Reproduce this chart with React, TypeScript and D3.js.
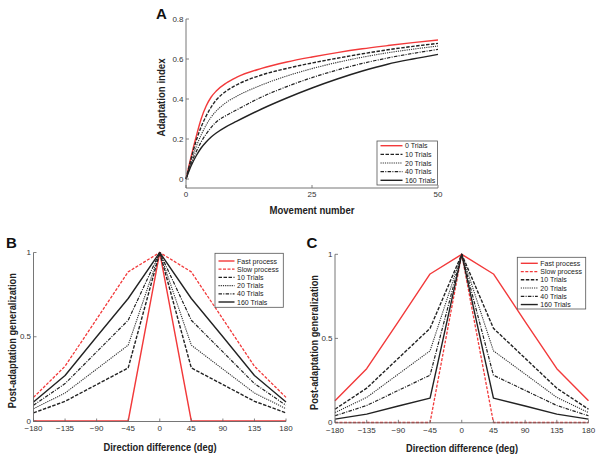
import React from "react";
import * as d3 from "d3";

// ---------- Panel A data ----------
const movement = [0, 1, 2, 3, 4, 5, 6, 8, 10, 15, 20, 25, 30, 35, 40, 45, 50];
const trials0 = [0, 0.11, 0.21, 0.3, 0.365, 0.41, 0.44, 0.48, 0.508, 0.553, 0.585, 0.61, 0.632, 0.651, 0.667, 0.682, 0.695];
const trials10 = [0, 0.1, 0.19, 0.26, 0.315, 0.36, 0.395, 0.44, 0.47, 0.52, 0.553, 0.58, 0.604, 0.626, 0.646, 0.663, 0.678];
const trials20 = [0, 0.085, 0.16, 0.22, 0.27, 0.31, 0.34, 0.383, 0.413, 0.47, 0.515, 0.552, 0.583, 0.609, 0.631, 0.649, 0.665];
const trials40 = [0, 0.075, 0.135, 0.185, 0.225, 0.258, 0.285, 0.318, 0.345, 0.41, 0.462, 0.507, 0.545, 0.578, 0.605, 0.628, 0.648];
const trials160 = [0, 0.065, 0.115, 0.155, 0.185, 0.21, 0.23, 0.262, 0.288, 0.35, 0.405, 0.455, 0.5, 0.54, 0.574, 0.6, 0.623];
const aLabels = ["0 Trials", "10 Trials", "20 Trials", "40 Trials", "160 Trials"];
const aXTicks = [0, 25, 50];
const aYTicks = [0, 0.2, 0.4, 0.6, 0.8];

// ---------- Panels B & C data ----------
const directions = [-180, -135, -90, -45, 0, 45, 90, 135, 180];
const bFast = [0, 0, 0, 0, 1, 0, 0, 0, 0];
const bSlow = [0.14, 0.325, 0.605, 0.885, 1, 0.885, 0.605, 0.325, 0.14];
const b10 = [0.048, 0.117, 0.216, 0.315, 1, 0.315, 0.216, 0.117, 0.048];
const b20 = [0.073, 0.166, 0.308, 0.45, 1, 0.45, 0.308, 0.166, 0.073];
const b40 = [0.093, 0.222, 0.41, 0.598, 1, 0.598, 0.41, 0.222, 0.093];
const b160 = [0.113, 0.27, 0.5, 0.727, 1, 0.727, 0.5, 0.27, 0.113];

const cFast = [0.13, 0.32, 0.6, 0.883, 1, 0.883, 0.6, 0.32, 0.13];
const cSlow = [0, 0, 0, 0, 1, 0, 0, 0, 0];
const c10 = [0.079, 0.204, 0.382, 0.56, 1, 0.56, 0.382, 0.204, 0.079];
const c20 = [0.059, 0.149, 0.288, 0.426, 1, 0.426, 0.288, 0.149, 0.059];
const c40 = [0.04, 0.101, 0.191, 0.281, 1, 0.281, 0.191, 0.101, 0.04];
const c160 = [0.02, 0.05, 0.098, 0.145, 1, 0.145, 0.098, 0.05, 0.02];
const bcLabels = ["Fast process", "Slow process", "10 Trials", "20 Trials", "40 Trials", "160 Trials"];
const bcXTicks = [-180, -135, -90, -45, 0, 45, 90, 135, 180];
const bcYTicks = [0, 0.5, 1];

const RED = "#f2393a";
const BLACK = "#222";
const AXIS = "#666";
const TICKFONT = "Liberation Sans, Arial, sans-serif";
const LABELFONT = "Liberation Sans, Arial, sans-serif";

type Style = { color: string; dash: string; width: number };
const sRed: Style = { color: RED, dash: "", width: 1.4 };
const sRedDash: Style = { color: RED, dash: "3,1.5", width: 1.3 };
const s10: Style = { color: BLACK, dash: "3.5,1.5", width: 1.4 };
const s20: Style = { color: "#333", dash: "1.2,1", width: 1.1 };
const s40: Style = { color: BLACK, dash: "3.5,1.3,1,1.3", width: 1.2 };
const s160: Style = { color: BLACK, dash: "", width: 1.4 };

const fmtDir = (v: number) => (v < 0 ? "\u2212" + Math.abs(v) : String(v));

type PanelProps = {
  xs: number[];
  series: number[][];
  styles: Style[];
  labels: string[];
  xDomain: [number, number];
  yDomain: [number, number];
  xRange: [number, number];
  yRange: [number, number];
  axisY: number;
  xTicks: number[];
  yTicks: number[];
  xFmt: (v: number) => string;
  yFmt: (v: number) => string;
  curve: d3.CurveFactory;
  xLabel: string;
  xLabelPos: [number, number, number];
  yLabel: string;
  yLabelPos: [number, number, number];
  letter: string;
  letterPos: [number, number];
  legend: { x: number; y: number; w: number; h: number; y0: number; dy: number; lineLen: number };
  xTickLabelY: number;
};

function Panel(p: PanelProps) {
  const x = d3.scaleLinear().domain(p.xDomain).range(p.xRange);
  const y = d3.scaleLinear().domain(p.yDomain).range(p.yRange);
  const line = d3
    .line<number>()
    .x((_, i) => x(p.xs[i]))
    .y((d) => y(d))
    .curve(p.curve);
  const x0 = p.xRange[0];
  const x1 = p.xRange[1];
  const yTop = y(p.yTicks[p.yTicks.length - 1]);
  return (
    <g>
      {p.series.map((s, i) => (
        <path
          key={i}
          d={line(s) || ""}
          fill="none"
          stroke={p.styles[i].color}
          strokeWidth={p.styles[i].width}
          strokeDasharray={p.styles[i].dash}
          strokeLinejoin="round"
        />
      ))}
      <line x1={x0} x2={x0} y1={yTop} y2={p.axisY} stroke={AXIS} strokeWidth={0.9} />
      <line x1={x0} x2={x1} y1={p.axisY} y2={p.axisY} stroke={AXIS} strokeWidth={0.9} />
      {p.yTicks.map((t) => (
        <g key={"y" + t}>
          <line x1={x0} x2={x0 + 3} y1={y(t)} y2={y(t)} stroke={AXIS} strokeWidth={0.8} />
          <text
            x={x0 - 2.5}
            y={y(t)}
            textAnchor="end"
            dominantBaseline="central"
            fontSize={8}
            fill="#333"
            fontFamily={TICKFONT}
          >
            {p.yFmt(t)}
          </text>
        </g>
      ))}
      {p.xTicks.map((t) => (
        <g key={"x" + t}>
          <line x1={x(t)} x2={x(t)} y1={p.axisY} y2={p.axisY - 3} stroke={AXIS} strokeWidth={0.8} />
          <text
            x={x(t)}
            y={p.xTickLabelY}
            textAnchor="middle"
            dominantBaseline="central"
            fontSize={8}
            fill="#333"
            fontFamily={TICKFONT}
          >
            {p.xFmt(t)}
          </text>
        </g>
      ))}
      <text
        x={p.xLabelPos[0]}
        y={p.xLabelPos[1]}
        textAnchor="middle"
        dominantBaseline="central"
        fontSize={10}
        fontWeight="bold"
        fill="#222"
        fontFamily={LABELFONT}
        textLength={p.xLabelPos[2]}
        lengthAdjust="spacingAndGlyphs"
      >
        {p.xLabel}
      </text>
      <text
        transform={`translate(${p.yLabelPos[0]},${p.yLabelPos[1]}) rotate(-90)`}
        textAnchor="middle"
        dominantBaseline="central"
        fontSize={10}
        fontWeight="bold"
        fill="#222"
        fontFamily={LABELFONT}
        textLength={p.yLabelPos[2]}
        lengthAdjust="spacingAndGlyphs"
      >
        {p.yLabel}
      </text>
      <text
        x={p.letterPos[0]}
        y={p.letterPos[1]}
        fontSize={15}
        fontWeight="bold"
        fill="#111"
        fontFamily={LABELFONT}
      >
        {p.letter}
      </text>
      <rect
        x={p.legend.x}
        y={p.legend.y}
        width={p.legend.w}
        height={p.legend.h}
        fill="white"
        stroke="#555"
        strokeWidth={0.8}
      />
      {p.labels.map((l, i) => {
        const ly = p.legend.y0 + i * p.legend.dy;
        return (
          <g key={l}>
            <line
              x1={p.legend.x + 3.5}
              x2={p.legend.x + 3.5 + p.legend.lineLen}
              y1={ly}
              y2={ly}
              stroke={p.styles[i].color}
              strokeWidth={p.styles[i].width}
              strokeDasharray={p.styles[i].dash}
            />
            <text
              x={p.legend.x + 6 + p.legend.lineLen}
              y={ly}
              dominantBaseline="central"
              fontSize={7}
              fill="#222"
              fontFamily={TICKFONT}
            >
              {l}
            </text>
          </g>
        );
      })}
    </g>
  );
}

export default function App() {
  return (
    <svg
      width={601}
      height={458}
      style={{ position: "absolute", left: 0, top: 0, background: "white" }}
    >
      <rect width={601} height={458} fill="white" />
      <Panel
        xs={movement}
        series={[trials0, trials10, trials20, trials40, trials160]}
        styles={[sRed, s10, s20, s40, s160]}
        labels={aLabels}
        xDomain={[0, 50]}
        yDomain={[0, 0.8]}
        xRange={[186, 438]}
        yRange={[179, 19]}
        axisY={188}
        xTicks={aXTicks}
        yTicks={aYTicks}
        xFmt={(v) => String(v)}
        yFmt={(v) => (v === 0 ? "0" : String(v))}
        curve={d3.curveMonotoneX}
        xLabel="Movement number"
        xLabelPos={[312, 210.7, 85]}
        yLabel="Adaptation index"
        yLabelPos={[161, 97.5, 78]}
        letter="A"
        letterPos={[156, 19]}
        legend={{ x: 377, y: 141, w: 60.5, h: 44, y0: 145.7, dy: 8.65, lineLen: 22 }}
        xTickLabelY={194.5}
      />
      <Panel
        xs={directions}
        series={[bFast, bSlow, b10, b20, b40, b160]}
        styles={[sRed, sRedDash, s10, s20, s40, s160]}
        labels={bcLabels}
        xDomain={[-180, 180]}
        yDomain={[0, 1]}
        xRange={[33.5, 286]}
        yRange={[421, 252.5]}
        axisY={421.5}
        xTicks={bcXTicks}
        yTicks={bcYTicks}
        xFmt={fmtDir}
        yFmt={(v) => String(v)}
        curve={d3.curveLinear}
        xLabel="Direction difference (deg)"
        xLabelPos={[160, 447.7, 113]}
        yLabel="Post-adaptation generalization"
        yLabelPos={[12.7, 340.7, 135]}
        letter="B"
        letterPos={[6, 247.5]}
        legend={{ x: 215, y: 253.3, w: 68.3, h: 54, y0: 261, dy: 8.2, lineLen: 16 }}
        xTickLabelY={428.5}
      />
      <Panel
        xs={directions}
        series={[cFast, cSlow, c10, c20, c40, c160]}
        styles={[sRed, sRedDash, s10, s20, s40, s160]}
        labels={bcLabels}
        xDomain={[-180, 180]}
        yDomain={[0, 1]}
        xRange={[335, 588.5]}
        yRange={[422.5, 254.3]}
        axisY={422.8}
        xTicks={bcXTicks}
        yTicks={bcYTicks}
        xFmt={fmtDir}
        yFmt={(v) => String(v)}
        curve={d3.curveLinear}
        xLabel="Direction difference (deg)"
        xLabelPos={[462, 448.3, 112]}
        yLabel="Post-adaptation generalization"
        yLabelPos={[314, 342.5, 135]}
        letter="C"
        letterPos={[306.5, 247.5]}
        legend={{ x: 517.3, y: 257.3, w: 68.4, h: 51.7, y0: 263.3, dy: 8.25, lineLen: 17 }}
        xTickLabelY={430.7}
      />
    </svg>
  );
}
